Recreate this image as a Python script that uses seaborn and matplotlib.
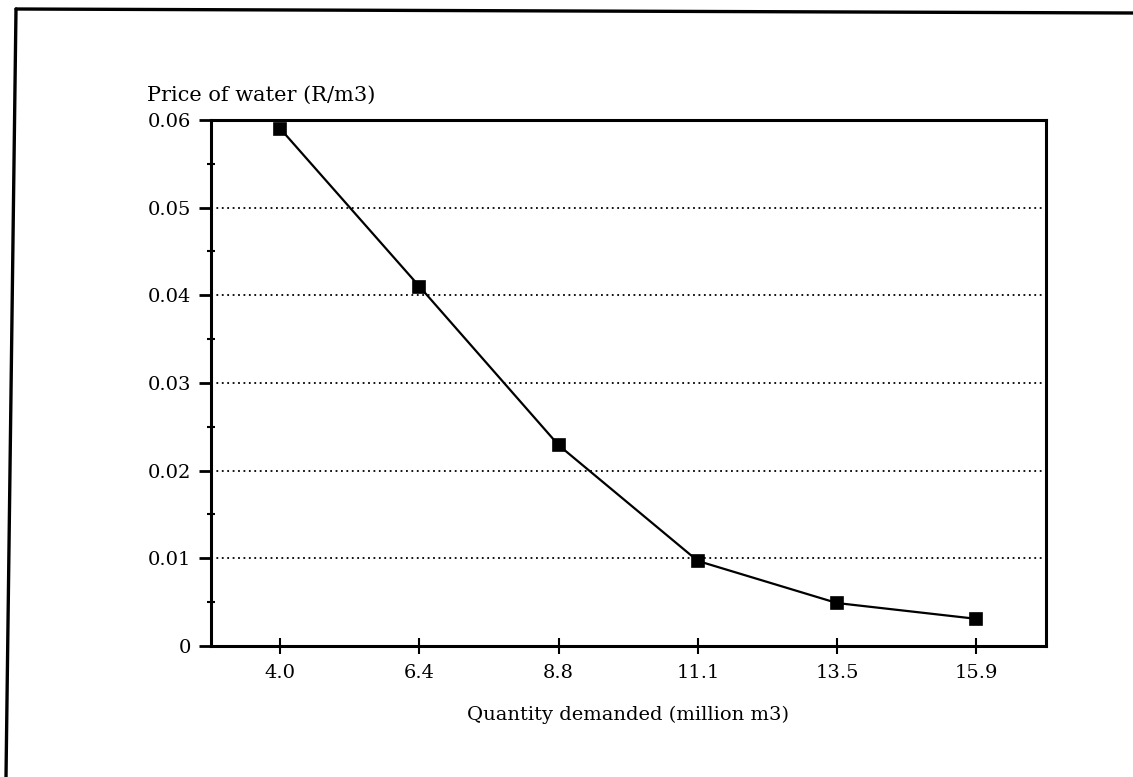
import matplotlib
matplotlib.use('Agg')
import matplotlib.pyplot as plt
import seaborn as sns
from matplotlib.lines import Line2D
from matplotlib.ticker import MultipleLocator

# Data
quantity = ['4.0', '6.4', '8.8', '11.1', '13.5', '15.9']
price = [0.059, 0.041, 0.0229, 0.0097, 0.0049, 0.0031]
y_ticks = [0, 0.01, 0.02, 0.03, 0.04, 0.05, 0.06]
y_tick_labels = ['0', '0.01', '0.02', '0.03', '0.04', '0.05', '0.06']

sns.set_style('white')
plt.rcParams['font.family'] = ['DejaVu Serif']
plt.rcParams['text.color'] = 'black'
plt.rcParams['xtick.color'] = 'black'
plt.rcParams['ytick.color'] = 'black'
plt.rcParams['axes.labelcolor'] = 'black'

fig = plt.figure(figsize=(11.33, 7.77), dpi=100)
ax = fig.add_axes([0.186, 0.1686, 0.737, 0.677])

sns.pointplot(x=quantity, y=price, color='black', markers='s', linestyles='-',
              errorbar=None, markersize=8, linewidth=1.6, ax=ax)

ax.set_ylim(0, 0.06)
ax.set_yticks(y_ticks)
ax.set_yticklabels(y_tick_labels)
ax.yaxis.set_minor_locator(MultipleLocator(0.005))
ax.set_xlim(-0.5, len(quantity) - 0.5)

# dotted horizontal gridlines
for v in y_ticks[1:-1]:
    ax.axhline(v, color='black', linestyle=(0, (1, 2)), linewidth=1.3, zorder=0)

for s in ax.spines.values():
    s.set_color('black')
    s.set_linewidth(2.2)

ax.tick_params(axis='y', which='major', direction='out', length=9, width=2,
               left=True, labelsize=14, pad=5)
ax.tick_params(axis='y', which='minor', direction='inout', length=6, width=1.5, left=True)
ax.tick_params(axis='x', direction='inout', length=12, width=1.5, bottom=True,
               labelsize=14, pad=7)

ax.set_xlabel('Quantity demanded (million m3)', fontsize=14, labelpad=17)
ax.set_ylabel('')
fig.text(0.13, 0.877, 'Price of water (R/m3)', fontsize=15, ha='left', va='center')

# scanned page frame (top and left edges, slightly skewed like the scan)
fig.add_artist(Line2D([16 / 1133, 1.0], [1 - 9 / 777, 1 - 13 / 777], color='black', linewidth=2.4))
fig.add_artist(Line2D([16 / 1133, 6 / 1133], [1 - 9 / 777, 0.0], color='black', linewidth=2.4))

fig.savefig('out.png', dpi=100)
